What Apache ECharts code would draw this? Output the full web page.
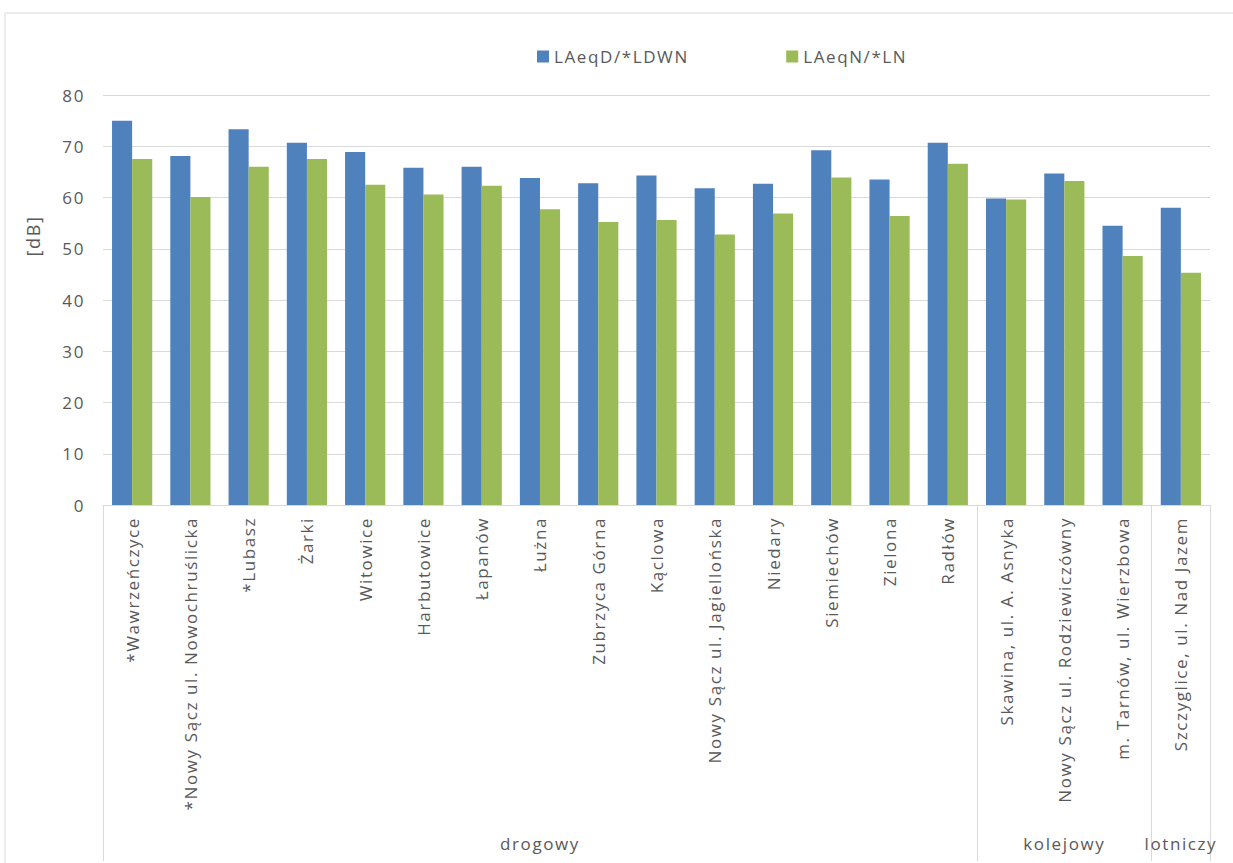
<!DOCTYPE html>
<html>
<head>
<meta charset="utf-8">
<script src="https://cdn.jsdelivr.net/npm/echarts@6/dist/echarts.min.js"></script>
<style>
  html, body { margin: 0; padding: 0; background: #ffffff; }
  /* slightly tracked-out lettering for all chart text */
  #chart { width: 1233px; height: 863px; letter-spacing: 1.6px; }
</style>
</head>
<body>
<div id="chart"></div>
<script>
// Measurement points (road, rail, airport noise)
const categories = [
  '*Wawrzeńczyce', '*Nowy Sącz ul. Nowochruślicka', '*Lubasz', 'Żarki', 'Witowice',
  'Harbutowice', 'Łapanów', 'Łużna', 'Zubrzyca Górna', 'Kąclowa',
  'Nowy Sącz ul. Jagiellońska', 'Niedary', 'Siemiechów', 'Zielona', 'Radłów',
  'Skawina, ul. A. Asnyka', 'Nowy Sącz ul. Rodziewiczówny', 'm. Tarnów, ul. Wierzbowa',
  'Szczyglice, ul. Nad Jazem'
];
// Source type of each measurement point
const groups = [
  'drogowy', 'drogowy', 'drogowy', 'drogowy', 'drogowy',
  'drogowy', 'drogowy', 'drogowy', 'drogowy', 'drogowy',
  'drogowy', 'drogowy', 'drogowy', 'drogowy', 'drogowy',
  'kolejowy', 'kolejowy', 'kolejowy',
  'lotniczy'
];
const seriesNames = ['LAeqD/*LDWN', 'LAeqN/*LN'];
const dayValues = [75.0, 68.1, 73.3, 70.7, 68.9, 65.8, 66.0, 63.8, 62.8, 64.3, 61.8, 62.7, 69.2, 63.5, 70.7, 59.8, 64.7, 54.5, 58.0];
const nightValues = [67.5, 60.1, 66.0, 67.5, 62.5, 60.6, 62.3, 57.7, 55.2, 55.6, 52.8, 56.9, 63.9, 56.4, 66.6, 59.6, 63.2, 48.6, 45.3];
const yTicks = [0, 10, 20, 30, 40, 50, 60, 70, 80];

// Group boundaries and the category under which each group name sits
const groupStarts = [];
const groupCenters = {};
(function () {
  let start = 0;
  for (let i = 0; i <= groups.length; i++) {
    if (i === groups.length || groups[i] !== groups[start]) {
      groupStarts.push(start);
      groupCenters[Math.floor((start + i - 1) / 2)] = groups[start];
      start = i;
    }
  }
})();

const FONT = 'Open Sans';
const FS = 17;
const TEXT = '#595959';
const LINE = '#d9d9d9';

const chart = echarts.init(document.getElementById('chart'), null, { renderer: 'svg' });
chart.setOption({
  backgroundColor: '#ffffff',
  animation: false,
  textStyle: { fontFamily: FONT },
  graphic: [
    { type: 'rect', shape: { x: 5, y: 13, width: 1260, height: 900 },
      style: { fill: 'none', stroke: LINE, lineWidth: 1 }, silent: true },
    { type: 'text', x: 33, y: 236, rotation: Math.PI / 2,
      style: { text: '[dB]', font: '18px "Open Sans"', fill: TEXT, align: 'center', verticalAlign: 'middle' } }
  ],
  legend: {
    left: 532, top: 43,
    itemWidth: 12, itemHeight: 12, itemGap: 115,
    icon: 'rect',
    textStyle: { fontSize: FS, color: TEXT, fontFamily: FONT },
    data: seriesNames
  },
  grid: { left: 103, right: 23, top: 95, bottom: 358, containLabel: false },
  xAxis: [
    {
      type: 'category',
      data: categories,
      position: 'bottom',
      axisLine: { show: true, lineStyle: { color: LINE, width: 1 } },
      axisTick: { show: false },
      axisLabel: { rotate: 90, margin: 12, fontSize: FS, color: TEXT, fontFamily: FONT, interval: 0 }
    },
    {
      type: 'category',
      data: categories,
      position: 'bottom',
      axisLine: { show: false },
      axisTick: {
        show: true, length: 356, inside: false,
        interval: function (index) { return groupStarts.indexOf(index) >= 0; },
        lineStyle: { color: LINE, width: 1 }
      },
      axisLabel: {
        margin: 330, fontSize: FS, color: TEXT, fontFamily: FONT,
        interval: function (index) { return groupCenters[index] !== undefined; },
        formatter: function (value, index) { return groupCenters[index] || ''; }
      }
    }
  ],
  yAxis: {
    type: 'value',
    min: 0, max: 80, interval: 10,
    axisLine: { show: false },
    axisTick: { show: false },
    splitLine: { lineStyle: { color: LINE, width: 1 } },
    axisLabel: {
      margin: 18, fontSize: FS, color: TEXT, fontFamily: FONT,
      formatter: function (v) { return yTicks.indexOf(v) >= 0 ? String(v) : ''; }
    }
  },
  series: [
    {
      name: seriesNames[0], type: 'bar', xAxisIndex: 0, data: dayValues,
      barGap: '0%', barCategoryGap: '31%',
      itemStyle: { color: '#4f81bd' }
    },
    {
      name: seriesNames[1], type: 'bar', xAxisIndex: 0, data: nightValues,
      barGap: '0%', barCategoryGap: '31%',
      itemStyle: { color: '#9bbb59' }
    }
  ]
});
</script>
</body>
</html>
